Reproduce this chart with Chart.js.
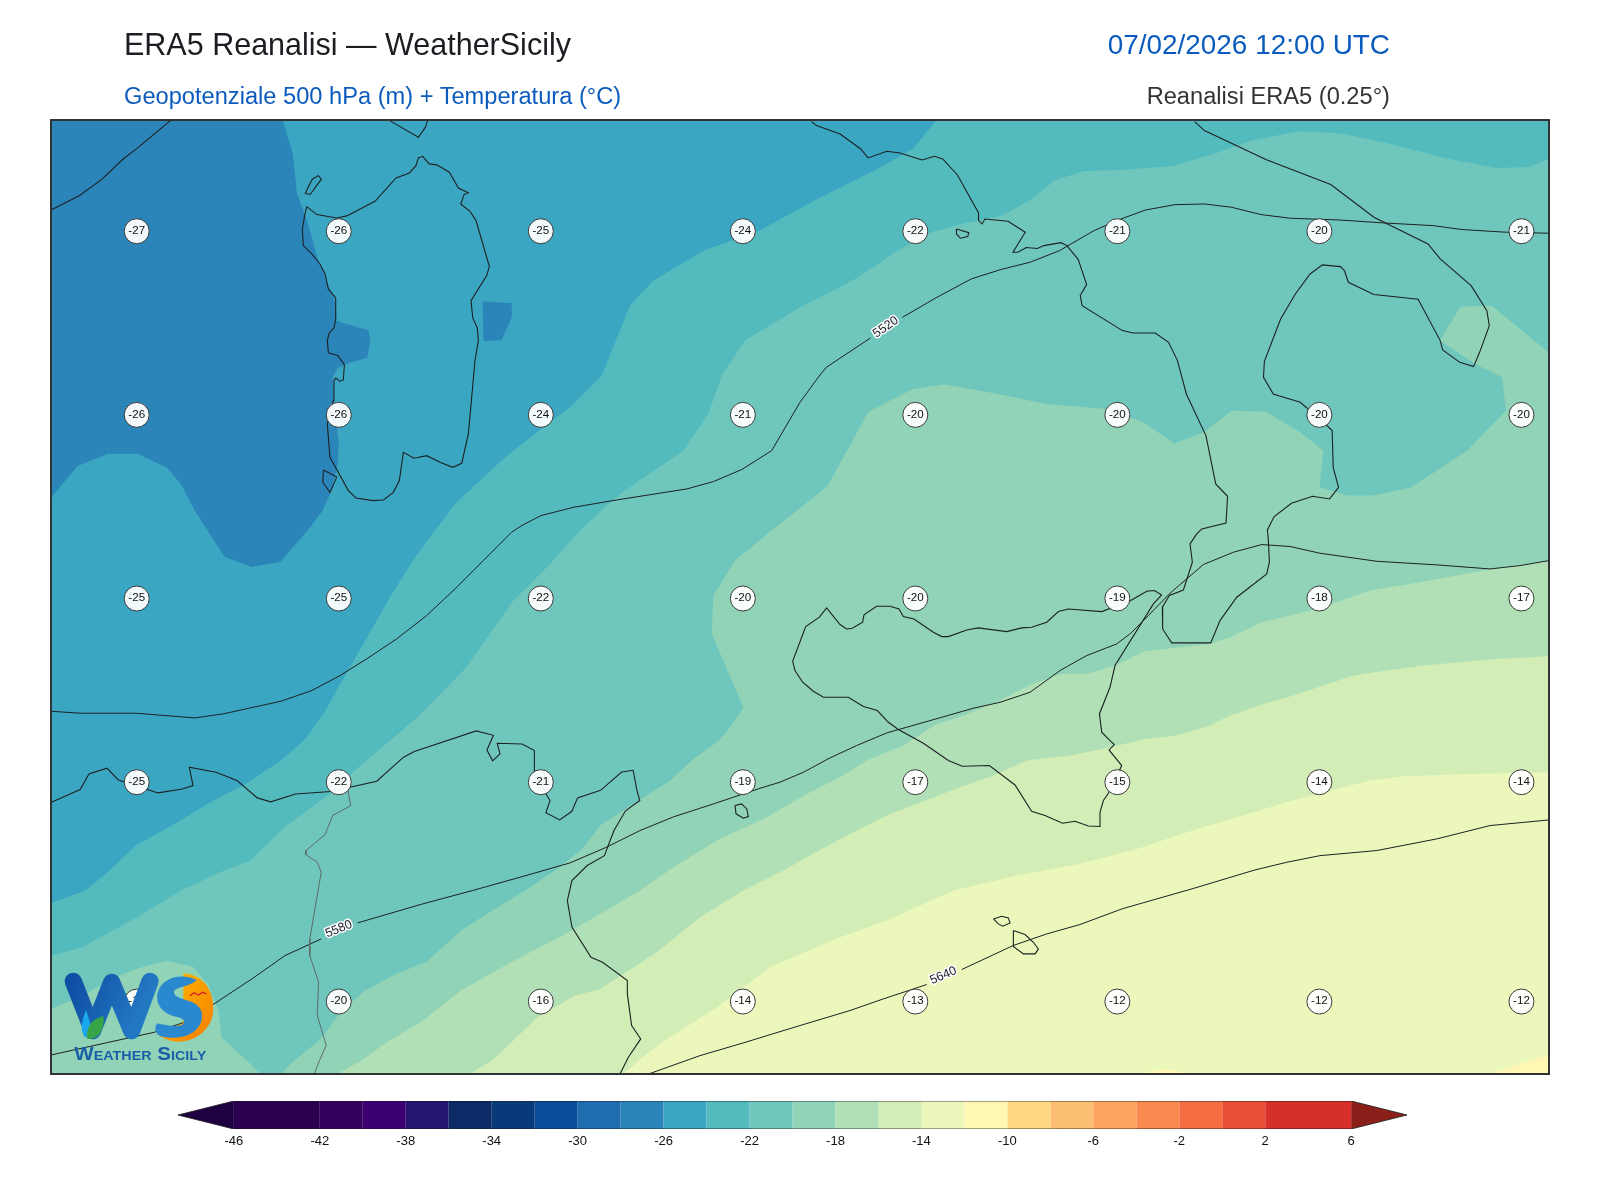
<!DOCTYPE html>
<html lang="it">
<head>
<meta charset="utf-8">
<title>ERA5 Reanalisi — WeatherSicily</title>
<script src="https://cdn.jsdelivr.net/npm/chart.js@4/dist/chart.umd.min.js"></script>
<style>
html,body{margin:0;padding:0;background:#fff;width:1600px;height:1200px;overflow:hidden}
body{position:relative;font-family:"Liberation Sans",Arial,sans-serif}
canvas{position:absolute;left:0}
.t{position:absolute;white-space:nowrap;line-height:1}
#logo{position:absolute;left:50px;top:940px;width:170px;height:130px}
</style>
</head>
<body>
<canvas id="map" width="1600" height="1090" style="top:0"></canvas>
<canvas id="bar" width="1600" height="80" style="top:1090px"></canvas>
<div class="t" style="left:124px;top:29px;font-size:30.5px;color:#1a1d21">ERA5 Reanalisi — WeatherSicily</div>
<div class="t" style="left:124px;top:84.5px;font-size:23.65px;color:#0a5bbd">Geopotenziale 500 hPa (m) + Temperatura (°C)</div>
<div class="t" style="right:210px;top:30.5px;font-size:27.9px;color:#0a5bbd">07/02/2026 12:00 UTC</div>
<div class="t" style="right:210px;top:84.5px;font-size:23.65px;color:#333">Reanalisi ERA5 (0.25°)</div>
<svg id="logo" viewBox="0 0 510 390">
  <defs>
    <linearGradient id="gw" x1="0" y1="0" x2="1" y2="0.3"><stop offset="0" stop-color="#0f4fa3"/><stop offset="1" stop-color="#2378c4"/></linearGradient>
    <linearGradient id="go" x1="0" y1="0" x2="1" y2="1"><stop offset="0" stop-color="#ffbf00"/><stop offset="1" stop-color="#f57c00"/></linearGradient>
  </defs>
  <path d="M70 124 L128 272 L185 127 L245 272 L300 124" fill="none" stroke="url(#gw)" stroke-width="52" stroke-linejoin="round" stroke-linecap="round"/>
  <path d="M108 210 C95 245 88 270 105 292 L135 292 C125 265 118 240 108 210Z" fill="#1aa7ee"/>
  <path d="M112 297 C105 260 130 235 160 228 C165 265 150 297 112 297Z" fill="#36a547"/>
  <path d="M400 100 C465 105 490 155 490 205 C490 265 440 305 385 305 C360 305 335 295 320 280 L400 250 Z" fill="url(#go)"/>
  <path d="M440 120 C400 98 330 110 322 165 C318 205 350 225 385 232 C405 238 408 250 395 255 C375 262 340 255 322 250 C312 262 315 280 330 288 C370 300 440 295 455 240 C462 205 440 190 415 182 C395 175 370 170 372 155 C378 138 420 142 440 120Z" fill="#2a88cf"/>
  <path d="M420 167 L432 158 L445 165 L458 157 L470 162" fill="none" stroke="#d8202a" stroke-width="4"/>
  <text x="73" y="359" font-family="Liberation Sans,Arial,sans-serif" font-weight="700" font-size="56" fill="#1a5ea8" textLength="396" lengthAdjust="spacingAndGlyphs" style="font-variant:small-caps">Weather Sicily</text>
</svg>
<script>
// Temperature grid (°C) printed on the map
const gridX = [134, 332, 530, 728, 897, 1095, 1293, 1491];
const gridY = [226, 406, 586, 766, 981];
const tempRow1 = [-27, -26, -25, -24, -22, -21, -20, -21];
const tempRow2 = [-26, -26, -24, -21, -20, -20, -20, -20];
const tempRow3 = [-25, -25, -22, -20, -20, -19, -18, -17];
const tempRow4 = [-25, -22, -21, -19, -17, -15, -14, -14];
const tempRow5 = [-19, -20, -16, -14, -13, -12, -12, -12];

// Temperature-band outlines, in map grid units: each outlines the area warmer than its level
const bandBase = [[50,117],[1518,117],[1518,1052],[50,1052]];
const bandM26 = [[277,117],[287,150],[291,189],[301,216],[312,255],[328,294],[330,314],[361,323],[363,333],[360,350],[340,356],[331,360],[326,369],[328,402],[332,434],[331,454],[325,480],[316,500],[305,515],[275,550],[247,555],[220,545],[191,500],[178,475],[164,458],[135,444],[106,444],[76,456],[50,487],[50,1052],[1518,1052],[1518,117]];
const bandM26Patch = [[473,295],[501.5,296.6],[501.5,310.4],[491.7,332.6],[473.7,333.9]];
const bandM24 = [[918,117],[895,145],[860,165],[800,195],[745,225],[690,245],[640.3,274.4],[617.4,298.9],[589.7,367.5],[558.6,398.5],[532.5,418.2],[493.3,449.2],[473.7,467.2],[445.9,493.3],[406.7,545.6],[382.2,584.8],[356.1,630.5],[330,676],[319,696],[298,725],[275,745],[242,767],[204,787],[171,807],[133,828],[107,853],[84,872],[50,885],[50,1052],[1518,1052],[1518,117]];
const bandM22 = [[1518,155],[1499,163],[1467,164],[1419,155],[1361,140],[1313,130],[1274,128],[1226,137],[1193,149],[1149,162],[1100,166],[1062,167],[1034,176],[1009,196],[981,211],[942,219],[913,227],[880,245],[841,271],[803.6,290.7],[784,300.5],[730.1,333.2],[707.3,367.5],[694.2,405.1],[669.7,441],[612.5,480.2],[594.6,494.9],[568.4,519.4],[539,552.1],[503.1,588],[455.7,655],[408,703],[379,728],[347,755],[324,777],[279,810],[245,843],[216,854],[178,872],[133,899],[80,928],[50,936],[50,1052],[1518,1052]];
const bandM20 = [[1518,345],[1462,299],[1431,300],[1411,333],[1445,356],[1472,369],[1476,402],[1457,421],[1438,441],[1383,477],[1346,485],[1320,485],[1293,477],[1297,441],[1274,423],[1241,403],[1207,402],[1180,423],[1151,434],[1120,413],[1082,400],[1024,395],[981,386],[925,376],[894,381],[851,403],[834,434],[812,474],[803.6,481.9],[757.9,517.8],[720.3,548.8],[699.1,583.1],[697.5,620.7],[728.5,692.6],[720.3,705.6],[705,725],[677.8,744.8],[656.6,764.4],[620.7,787.3],[588,808.5],[572,830],[549,849],[515,872],[482,892],[452,911],[418,942],[388,954],[358,970],[335,990],[313,1019],[288,1039],[275,1052],[1518,1052]];
const bandM20Lobe = [[50,988],[77,977],[114,957],[133,949],[163,941],[189,947],[204,964],[214,990],[217,1016],[242,1039],[255,1052],[50,1052]];
const bandM18 = [[1518,548.8],[1463.5,557],[1381.8,571.7],[1342.6,578.2],[1310,589.6],[1277.3,599.4],[1236.5,609.2],[1205.4,624],[1185.8,630.5],[1122.1,637.7],[1092.7,651.7],[1065,660],[1039,660],[1009,671],[980,686],[941,702],[918,709],[885,730],[849.4,744.8],[823.2,761.1],[790.6,777.5],[751.4,800.3],[702.3,823.2],[659.9,849.3],[627.2,872.2],[588,895.1],[557,913],[500,943],[452,970],[414,1000],[377,1022],[354,1039],[330,1052],[1518,1052]];
const bandM16 = [[1518,642.6],[1466.8,645.2],[1394.9,651.7],[1359,656.6],[1326.3,661.5],[1267.5,681.1],[1238.1,689.3],[1205.4,700.7],[1185.8,710.5],[1153.1,720.3],[1120.5,724.2],[1087.8,731.8],[1048.6,739.9],[1006.2,744.8],[973.5,759.5],[927.8,775.8],[869,798.7],[829.8,818.3],[790.6,839.5],[764.4,854.2],[728.5,872.2],[686,898.4],[643.5,932.7],[610.9,953.9],[588,968.6],[564,975],[527,996],[500,1022],[482,1039],[460,1052],[1518,1052]];
const bandM14 = [[1518,756.3],[1440.6,757.9],[1375.3,760.2],[1342.6,764.4],[1310,772.6],[1261,785.7],[1212,800.4],[1163,815.1],[1114,831.4],[1058.4,846],[996.4,857.5],[934.3,872.2],[869,901.6],[823.2,918],[784,934.3],[754.6,947.4],[728.5,967],[702.3,986.6],[656.6,1016],[633.7,1032.3],[610.9,1052],[1518,1052]];
const bandM12East = [[1460,1052],[1518,1033],[1518,1052]];
const bandM12Hump = [[1115,1052],[1142,1047],[1170,1052]];

// Coastlines and border, in map grid units
const coastFrance = [[50.6,205],[78,191],[100,175],[121,155],[134,145],[167,117.6]];
const coastCorsica = [[382,117.6],[410,134],[417,124],[419,117.6]];
const coastAsinara = [[299,189],[306,175],[312,171.5],[315,175],[309,183],[304,190],[299,189]];
const coastSardinia = [[300.6,201.9],[310.4,209.7],[330,213],[339.8,211],[367.5,196.7],[388.1,173.8],[401.2,168.9],[407.7,161.7],[410,154.2],[414.3,152.6],[420.5,160],[428,161],[440.4,168.2],[449.2,183.6],[459,188.2],[454.8,190.1],[451.5,199.3],[460.6,206.5],[466.5,215.6],[479.6,260.7],[477,269.5],[461.6,294],[463.3,311],[467.8,320.8],[468.8,333.2],[465.5,352.8],[459,424.7],[452.5,453.4],[443.6,457.4],[431.2,452.5],[418.2,446],[405.8,448.5],[395.3,442.7],[391.4,470.4],[385.5,481.9],[375.7,489.4],[365.9,490],[348.9,487.4],[341.4,480.2],[323.4,447.6],[320.8,414.9],[326.7,392],[327.3,372.4],[329,369.8],[333.2,373],[336.5,371.8],[337.5,356.7],[331,347.9],[321.8,345.3],[320.8,333.2],[322.5,326],[327.3,320.8],[329,312],[329,291.4],[321.8,282.6],[318.5,267.9],[313.6,258.1],[305.5,248.3],[297.3,240.1],[296.3,223.8],[298.9,209],[300.6,201.9]];
const coastSanPietro = [[317,460],[330,467],[323.4,482],[316.3,472],[317,460]];
const coastAfrica = [[50.4,785.6],[78.6,773.2],[87.2,757.9],[104.8,752.3],[116,763.8],[146,773.6],[154.7,776.5],[178.7,772.6],[189.2,769.3],[185.5,751.3],[211.7,756.2],[232.3,764.4],[252.2,781.4],[265.3,785.3],[289.7,777.5],[324.2,775.2],[369.2,765],[395.5,741.5],[406,736],[466.7,715.7],[483.6,720],[477.2,734.4],[482.8,745.1],[490,738.3],[487.3,727.8],[511.7,728.5],[523.7,735],[523.7,754.6],[536,779],[539,784],[535,796],[548.5,803],[560.5,794.5],[566,781.4],[588.6,774],[609.2,756],[620.5,754.3],[624.2,774],[627,784],[613,794],[601.7,813.4],[592.3,838],[575.5,847.7],[560.5,862.4],[556,882],[560.5,908],[579.2,937.6],[590.5,942.5],[614.8,960.4],[614.8,973.5],[619,1004.5],[627.9,1017.6],[615.8,1035.6],[607.6,1052]];
const borderTunisia = [[341,774],[343.7,789],[326,798.7],[318.6,817.3],[299.8,833],[299.8,837],[311,844.5],[314.8,854.3],[303.6,919.6],[303.6,936],[312.2,962],[311,994.7],[319.7,1024],[313,1039],[308,1052]];
const coastPantelleria = [[720.3,788.9],[726.8,787.3],[731.8,792.2],[733.4,799.7],[728.5,801.3],[721.3,797],[720.3,788.9]];
const coastLinosa = [[973.5,900],[981.7,897.4],[988.2,899],[989.8,903.9],[982.7,907.2],[978.4,904.9],[973.5,900]];
const coastLampedusa = [[993.1,911.4],[1004.5,915.3],[1012.7,922.9],[1017.6,929.4],[1014.4,934.3],[1002.9,934.3],[993.1,927.1],[993.1,911.4]];
const coastElba = [[937.3,223.8],[949.4,227.4],[948.4,231.3],[941.2,232.9],[937.3,228.7],[937.3,223.8]];
const coastItaly = [[795.3,118.6],[800.2,122.5],[823.3,130.7],[843.5,145.4],[850.7,154.2],[869,147.7],[882,149.3],[903.6,156.2],[915.7,152.6],[923.8,155.2],[938.3,170.9],[959,208.1],[959,215.6],[962.4,218.9],[965.2,214],[987.9,216.3],[1004.7,227],[992.7,246.6],[997.5,246.6],[1005.7,242],[1016.7,243],[1023,240.1],[1039.8,237.2],[1045.6,240.1],[1056.7,253.8],[1064.9,278.3],[1058.6,289.1],[1060.5,298.9],[1100,323.4],[1110.6,325.7],[1132.2,325.7],[1145.2,334.9],[1153.9,352.8],[1162.6,385.5],[1181.8,426.3],[1191.4,473.7],[1203,485.8],[1201.5,512],[1177.7,517.8],[1172.8,522.7],[1166.2,532.5],[1168.5,550.4],[1159.7,577.6],[1146,583],[1139.1,594.5],[1139.4,615.8],[1148.3,629.5],[1186.5,629.5],[1195.6,607.6],[1212,584.7],[1241.4,561.9],[1244,550.4],[1243,529],[1242,518.8],[1248.7,505.7],[1265.6,492.7],[1286.3,485.8],[1303,488.4],[1311.8,477],[1306.5,457.4],[1305.5,421.4],[1293.5,410],[1274.2,393.7],[1247.8,385.5],[1238.2,369.2],[1239.1,353.5],[1255,312],[1269.4,287.5],[1283.9,267.9],[1295.9,259],[1313.7,260.7],[1317.5,264.6],[1321.4,276],[1346.4,288],[1389.7,292.7],[1411.4,333.2],[1413.8,342.4],[1430.6,354.5],[1444.1,358.7],[1450,344.7],[1459.5,318.5],[1457.1,303.8],[1441.7,279.3],[1411.4,253.2],[1399.4,238.5],[1346.4,212.3],[1304.1,180.3],[1240.5,155.8],[1180.4,127.4],[1170.7,118.6]];
const coastSicily = [[1138.5,582.5],[1131.3,578.2],[1123.8,578.9],[1108.1,588],[1079.7,598.8],[1047,596.2],[1037.2,598.8],[1025.8,609.2],[1011,614.1],[1001.3,614.8],[986.6,618.4],[958.8,614.8],[947.4,616.8],[929.4,623.3],[922.9,623.3],[914.7,619],[895.7,606],[885.3,603.7],[881,596.2],[872.2,593.6],[859.1,593.6],[846.7,602],[845.4,609.2],[835.3,615.1],[829.7,615.8],[823.2,611.5],[810.1,595.2],[803,604.3],[789.6,613.5],[776.8,647.5],[779.1,656.6],[786.6,668],[797.1,676.9],[806.9,682.8],[831.4,682.8],[846.1,691.9],[859.8,695.8],[870.6,707.3],[880.4,714.4],[904.9,727.8],[929.4,744.8],[943.1,750.4],[969.6,749.7],[994.7,768.7],[1011,794.5],[1024.1,798.7],[1041.4,806.2],[1053.5,804.3],[1066.6,808.9],[1078.7,809.5],[1078,795.5],[1081.3,784],[1086.2,776.8],[1099.3,749.7],[1086.9,734.4],[1092.1,729.1],[1087.8,725.2],[1079.7,717],[1077.4,699.1],[1087.8,673],[1092.7,651.7],[1130.3,591.3],[1138.5,582.5]];

// Geopotential contours (m), split where the inline label interrupts them
const contour5520West = [[50.4,696.5],[78.6,698.4],[133,698.4],[191,703],[219,699],[275.5,686.6],[305.5,676.2],[333.2,661.5],[359.3,645.2],[388.7,625.6],[418.1,602.7],[445.9,576.6],[473.7,548.8],[501.4,521],[511.2,514.5],[530.2,504.7],[561.9,496.6],[604.4,489.4],[673,478.6],[699.1,471.4],[726.9,459.6],[756.3,441],[784,393.6],[803.6,366.9],[809.8,359.4],[853.1,330.6]];
const contour5520East = [[884.4,310.4],[918.1,290.8],[951.8,272.8],[980.6,263.6],[1009.5,256.4],[1038.4,245],[1072.1,225.4],[1098.6,214],[1122.6,205.2],[1151.5,200],[1180.4,199.3],[1206.8,202.5],[1235.7,209.7],[1264.6,213.3],[1312.7,215],[1356,217.9],[1404.2,220.5],[1433,224.4],[1476.4,227],[1518,228]];
const contour5580West = [[50.4,1033.3],[151.7,1011],[181.7,1001],[209.8,983.3],[249.2,957.2],[279.2,936],[314.8,919.6]];
const contour5580East = [[350.5,903.9],[414.2,885.3],[463,872.2],[515.5,857.5],[558.6,845.1],[594.2,829.8],[627.2,813.4],[660,800],[700,787],[744.8,772],[764.4,766],[787.3,756.3],[813.4,742.2],[839.5,730.1],[869,717.7],[922.9,702.4],[953.9,693.5],[980,687.7],[1009.4,677.9],[1038.8,656.6],[1048.6,651],[1065,641.9],[1094.3,630.5],[1107.4,620.7],[1125.4,602.7],[1146.6,580.8],[1179.3,552.7],[1208.7,540.6],[1236.5,533.1],[1264.2,535],[1293.6,541.6],[1349.2,549.5],[1407.9,553],[1460.2,557],[1489.7,553.7],[1518,548.8]];
const contour5640West = [[637,1051.5],[686,1034],[728.5,1021.5],[784,1004.5],[833,989.8],[865.7,978.4],[908.2,964.3]];
const contour5640East = [[942.5,949.6],[993.1,926],[1025.8,914.7],[1058.4,905.5],[1100,890],[1170,870],[1229.9,852],[1261,844.5],[1293.6,838],[1349.2,833],[1408,821.6],[1460.2,808.5],[1518,803]];
const contourLevels = [5520, 5580, 5640];
const contourLabelX = [868, 332, 924.5];
const contourLabelY = [320, 910, 955.5];
const contourLabelAngle = [-35, -22, -23];

// Colour-bar
const barLevels = [-46,-42,-40,-38,-36,-34,-32,-30,-28,-26,-24,-22,-20,-18,-16,-14,-12,-10,-8,-6,-4,-2,0,2,6];
const barColors = ['#2b004f','#36005f','#3d0074','#241570','#0c2a66','#083a7a','#0a4e99','#1f6cb1','#2c85b9','#3aa6c2','#53bbbe','#6fc6bc','#90d3b7','#b1e0b6','#d2edb5','#ebf7bb','#fff7b2','#fed781','#fdbf71','#fda45e','#fb8a50','#f46d43','#e84d35','#d7302a'];
const barTicks = [-46,-42,-38,-34,-30,-26,-22,-18,-14,-10,-6,-2,2,6];
const underArrow = [[-46,0],[-48.6,0.5],[-46,1]];
const overArrow = [[6,0],[8.6,0.5],[6,1]];

const colorOf = t => barColors[barLevels.indexOf(t)];
const pts = a => a.map(p => ({x:p[0], y:p[1]}));
const shape = (a, color, order) => ({type:'scatter', data:pts(a), showLine:true, fill:'shape', backgroundColor:color, borderColor:color, borderWidth:0, pointRadius:0, tension:0, order});
const line = (a, color, w, order=10) => ({type:'scatter', data:pts(a), showLine:true, fill:false, borderColor:color, borderWidth:w, pointRadius:0, tension:0, order});

const tempRows = [tempRow1,tempRow2,tempRow3,tempRow4,tempRow5];
const tempPoints = [];
tempRows.forEach((row,j) => row.forEach((v,i) => tempPoints.push({x:gridX[i], y:gridY[j], v})));

const datasets = [
  shape(bandBase, colorOf(-28), 1000),
  shape(bandM26, colorOf(-26), 990),
  shape(bandM26Patch, colorOf(-28), 985),
  shape(bandM24, colorOf(-24), 980),
  shape(bandM22, colorOf(-22), 970),
  shape(bandM20, colorOf(-20), 960),
  shape(bandM20Lobe, colorOf(-20), 955),
  shape(bandM18, colorOf(-18), 950),
  shape(bandM16, colorOf(-16), 940),
  shape(bandM14, colorOf(-14), 930),
  shape(bandM12East, colorOf(-12), 920),
  shape(bandM12Hump, colorOf(-12), 915)
];
[coastFrance,coastCorsica,coastAsinara,coastSardinia,coastSanPietro,coastAfrica,coastPantelleria,coastLinosa,coastLampedusa,coastElba,coastItaly,coastSicily].forEach(c => datasets.push(line(c,'#1d2124',1.1)));
datasets.push(line(borderTunisia,'#5c6b68',1));
[contour5520West,contour5520East,contour5580West,contour5580East,contour5640West,contour5640East].forEach(c => datasets.push(line(c,'#1d2124',1)));
datasets.push({type:'scatter', data:tempPoints, pointRadius:12.5, pointHoverRadius:12.5, pointBackgroundColor:'rgba(255,255,255,0.94)', pointBorderColor:'#3a3a3a', pointBorderWidth:1, showLine:false, order:1});

const mapDecor = {
  id:'mapDecor',
  afterDatasetsDraw(chart){
    const {ctx, scales:{x,y}, chartArea:a} = chart;
    ctx.save();
    ctx.textAlign='center'; ctx.textBaseline='middle';
    ctx.font='12.5px "Liberation Sans",Arial,sans-serif';
    contourLevels.forEach((lv,i) => {
      ctx.save();
      ctx.translate(x.getPixelForValue(contourLabelX[i]), y.getPixelForValue(contourLabelY[i]));
      ctx.rotate(contourLabelAngle[i]*Math.PI/180);
      ctx.lineWidth=3; ctx.strokeStyle='#fff'; ctx.lineJoin='round';
      ctx.strokeText(String(lv),0,0);
      ctx.fillStyle='#223';
      ctx.fillText(String(lv),0,0);
      ctx.restore();
    });
    ctx.font='11.6px "Liberation Sans",Arial,sans-serif';
    ctx.fillStyle='#111';
    tempPoints.forEach(p => ctx.fillText(String(p.v), x.getPixelForValue(p.x), y.getPixelForValue(p.y)-0.5));
    ctx.strokeStyle='#2f3336'; ctx.lineWidth=2;
    ctx.strokeRect(a.left,a.top,a.right-a.left,a.bottom-a.top);
    ctx.restore();
  }
};

new Chart(document.getElementById('map'), {
  type:'scatter',
  data:{datasets},
  options:{
    responsive:false, animation:false, devicePixelRatio:1,
    layout:{padding:{left:51,top:120,right:51,bottom:16}},
    scales:{
      x:{type:'linear',display:false,min:50,max:1518},
      y:{type:'linear',display:false,min:117,max:1052,reverse:true}
    },
    plugins:{legend:{display:false},tooltip:{enabled:false}},
    events:[]
  },
  plugins:[mapDecor]
});

const barSets = [];
for(let i=0;i<barColors.length;i++){
  const a=barLevels[i], b=barLevels[i+1];
  barSets.push(shape([[a,0],[b,0],[b,1],[a,1]], barColors[i], 20));
}
barSets.push(shape(underArrow,'#1f0040',20));
barSets.push(shape(overArrow,'#8b1f1a',20));
barSets.push(line([...underArrow,[6,1],[8.6,0.5],[6,0],[-46,0]],'#1a1a1a',0.8,5));

new Chart(document.getElementById('bar'), {
  type:'scatter',
  data:{datasets:barSets},
  options:{
    responsive:false, animation:false, devicePixelRatio:1,
    layout:{padding:{left:178,top:11,right:193,bottom:16}},
    scales:{
      x:{type:'linear',min:-48.6,max:8.6,
        afterBuildTicks(s){s.ticks=barTicks.map(v=>({value:v}));},
        afterFit(s){s.height=25;},
        grid:{display:false,drawTicks:false},
        border:{display:false},
        ticks:{autoSkip:false,maxRotation:0,padding:5,color:'#111',font:{size:13,family:'"Liberation Sans",Arial,sans-serif'},callback:v=>String(v)}
      },
      y:{type:'linear',display:false,min:0,max:1}
    },
    plugins:{legend:{display:false},tooltip:{enabled:false}},
    events:[]
  }
});
</script>
</body>
</html>
